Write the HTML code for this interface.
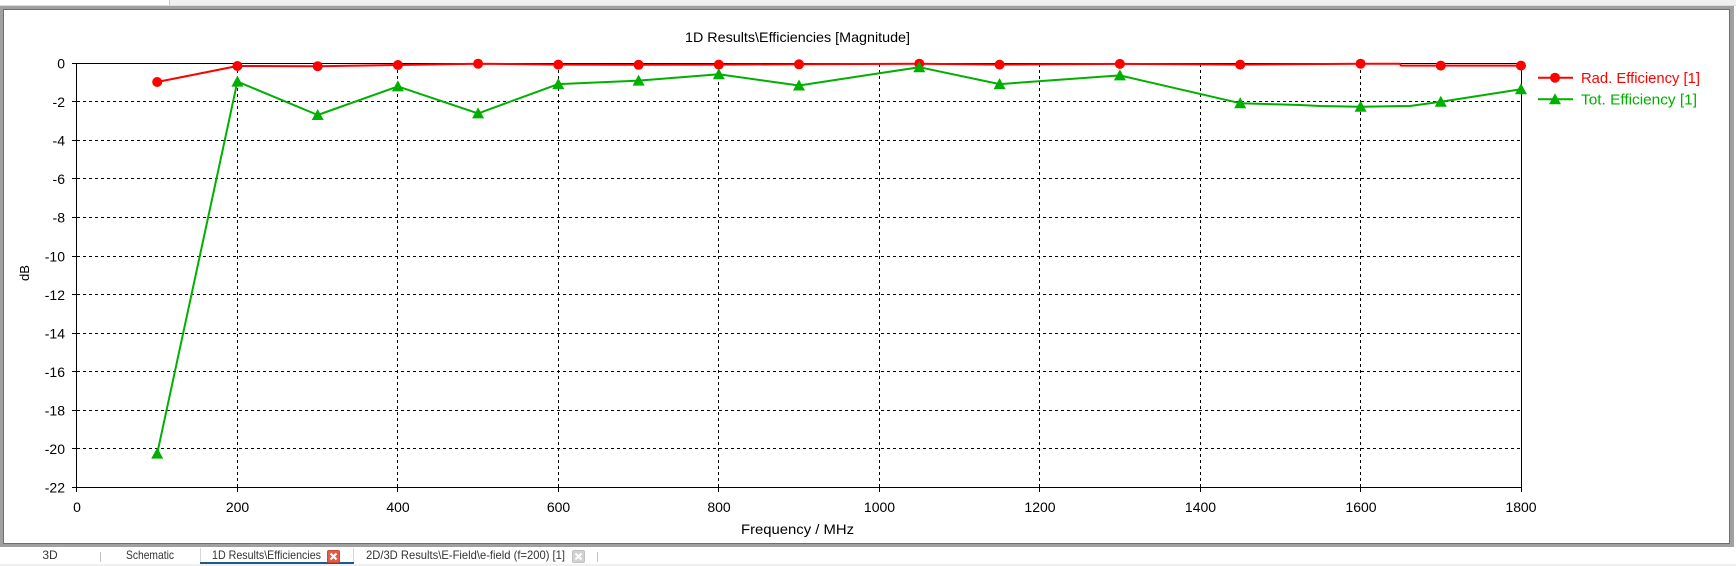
<!DOCTYPE html>
<html><head><meta charset="utf-8"><style>
html,body{margin:0;padding:0;background:#fff;}
svg{display:block;}
text{font-family:"Liberation Sans","DejaVu Sans",sans-serif;}
</style></head><body>
<svg width="1736" height="566" viewBox="0 0 1736 566" xmlns="http://www.w3.org/2000/svg">
<!-- top strip -->
<rect x="0" y="0" width="1736" height="5" fill="#f0f0f0"/>
<rect x="0" y="0" width="169" height="5" fill="#ffffff"/>
<rect x="169" y="0" width="1" height="5" fill="#c8c8c8"/>
<rect x="0" y="5" width="1736" height="1" fill="#dcdcdc"/>
<!-- frame -->
<rect x="0" y="6" width="1734" height="541" fill="#a0a0a0"/>
<rect x="3" y="9" width="1727" height="535" fill="#6e6e6e"/>
<rect x="4" y="10" width="1725" height="533" fill="#ffffff"/>
<!-- tab bar -->
<rect x="0" y="547" width="1736" height="19" fill="#ffffff"/>
<rect x="0" y="564" width="1736" height="2" fill="#f0f0f0"/>
<rect x="100" y="552" width="1" height="10" fill="#c0c0c0"/>
<rect x="597" y="552" width="1" height="10" fill="#c0c0c0"/>
<rect x="200" y="548" width="1" height="15" fill="#d8d8d8"/>
<rect x="353" y="548" width="1" height="15" fill="#d8d8d8"/>
<rect x="200" y="562" width="154" height="2" fill="#1f5a8e"/>
<g font-size="12" fill="#333">
<text x="50" y="559" text-anchor="middle">3D</text>
<text x="150" y="559" text-anchor="middle" textLength="48" lengthAdjust="spacingAndGlyphs">Schematic</text>
<text x="212" y="559" textLength="109" lengthAdjust="spacingAndGlyphs">1D Results\Efficiencies</text>
<text x="366" y="559" textLength="199" lengthAdjust="spacingAndGlyphs">2D/3D Results\E-Field\e-field (f=200) [1]</text>
</g>
<rect x="327.5" y="550.5" width="12" height="12" rx="1.5" fill="#e35c45" stroke="#c94a35"/>
<path d="M330.5 553.5 L336.5 559.5 M336.5 553.5 L330.5 559.5" stroke="#fff" stroke-width="2"/>
<rect x="572.5" y="550.5" width="12" height="12" rx="1.5" fill="#d2d2d2" stroke="#c0c0c0"/>
<path d="M575.5 553.5 L581.5 559.5 M581.5 553.5 L575.5 559.5" stroke="#fff" stroke-width="2"/>

<!-- title -->
<text x="797.5" y="42" font-size="14" text-anchor="middle" fill="#000" textLength="225" lengthAdjust="spacingAndGlyphs">1D Results\Efficiencies [Magnitude]</text>

<!-- grid -->
<g stroke="#000" stroke-width="1" stroke-dasharray="3,3" shape-rendering="crispEdges" fill="none">
<path d="M77 101.5H1521M77 140.5H1521M77 178.5H1521M77 217.5H1521M77 256.5H1521M77 294.5H1521M77 333.5H1521M77 371.5H1521M77 410.5H1521M77 448.5H1521"/>
<path d="M237.5 64V487M397.5 64V487M558.5 64V487M718.5 64V487M879.5 64V487M1039.5 64V487M1200.5 64V487M1360.5 64V487"/>
</g>
<!-- axes box -->
<g stroke="#000" stroke-width="1" shape-rendering="crispEdges" fill="none">
<rect x="76.5" y="63.5" width="1445" height="424"/>
<path d="M72 63.5H77M72 101.5H77M72 140.5H77M72 178.5H77M72 217.5H77M72 256.5H77M72 294.5H77M72 333.5H77M72 371.5H77M72 410.5H77M72 448.5H77M72 487.5H77"/>
<path d="M76.5 487V492M237.5 487V492M397.5 487V492M558.5 487V492M718.5 487V492M879.5 487V492M1039.5 487V492M1200.5 487V492M1360.5 487V492M1521.5 487V492"/>
</g>
<!-- y tick labels -->
<g font-size="14" text-anchor="end" fill="#000">
<text x="65" y="68.5">0</text>
<text x="65" y="107">-2</text>
<text x="65" y="145.5">-4</text>
<text x="65" y="184">-6</text>
<text x="65" y="222.5">-8</text>
<text x="65" y="261.5">-10</text>
<text x="65" y="300">-12</text>
<text x="65" y="338.5">-14</text>
<text x="65" y="377">-16</text>
<text x="65" y="415.5">-18</text>
<text x="65" y="454">-20</text>
<text x="65" y="492.5">-22</text>
</g>
<!-- x tick labels -->
<g font-size="14" text-anchor="middle" fill="#000">
<text x="77" y="512">0</text>
<text x="237.5" y="512">200</text>
<text x="398" y="512">400</text>
<text x="558.5" y="512">600</text>
<text x="719" y="512">800</text>
<text x="879.5" y="512">1000</text>
<text x="1040" y="512">1200</text>
<text x="1200.5" y="512">1400</text>
<text x="1361" y="512">1600</text>
<text x="1521" y="512">1800</text>
</g>
<text x="797.5" y="534" font-size="14" text-anchor="middle" fill="#000" textLength="113" lengthAdjust="spacingAndGlyphs">Frequency / MHz</text>
<text transform="translate(29,273) rotate(-90)" font-size="13" text-anchor="middle" fill="#000">dB</text>

<!-- red series -->
<polyline fill="none" stroke="#ff0000" stroke-width="2" stroke-linejoin="round" points="157.2,82 237.4,66 317.7,66.2 397.9,65 478.1,63.7 558.3,64.6 638.6,64.8 718.8,64.6 799,64.3 919.3,63.7 999.6,64.6 1119.9,63.9 1240.2,64.6 1360.6,63.7 1400,63.7 1401,65.6 1440.8,65.6 1521,65.6"/>
<g fill="#ff0000">
<circle cx="157.2" cy="82" r="5"/><circle cx="237.4" cy="66" r="5"/><circle cx="317.7" cy="66.2" r="5"/><circle cx="397.9" cy="65" r="5"/><circle cx="478.1" cy="63.7" r="5"/><circle cx="558.3" cy="64.6" r="5"/><circle cx="638.6" cy="64.8" r="5"/><circle cx="718.8" cy="64.6" r="5"/><circle cx="799" cy="64.3" r="5"/><circle cx="919.3" cy="63.7" r="5"/><circle cx="999.6" cy="64.6" r="5"/><circle cx="1119.9" cy="63.9" r="5"/><circle cx="1240.2" cy="64.6" r="5"/><circle cx="1360.6" cy="63.7" r="5"/><circle cx="1440.8" cy="65.6" r="5"/><circle cx="1521" cy="65.6" r="5"/>
</g>
<!-- green series -->
<polyline fill="none" stroke="#00b000" stroke-width="2" stroke-linejoin="round" points="157.2,453.6 237.4,81.6 317.7,115 397.9,86.4 478.1,113.4 558.3,84.1 638.6,80.6 718.8,74.3 799,85.5 919.3,67.2 999.6,84.1 1119.9,75.4 1240.2,103.2 1300,105 1320,106 1360.6,106.7 1410,106 1440.8,101.7 1521,89.3"/>
<g fill="#00b000">
<path d="M157.2 447.6 l6 11 h-12z"/>
<path d="M237.4 75.6 l6 11 h-12z"/>
<path d="M317.7 109 l6 11 h-12z"/>
<path d="M397.9 80.4 l6 11 h-12z"/>
<path d="M478.1 107.4 l6 11 h-12z"/>
<path d="M558.3 78.1 l6 11 h-12z"/>
<path d="M638.6 74.6 l6 11 h-12z"/>
<path d="M718.8 68.3 l6 11 h-12z"/>
<path d="M799 79.5 l6 11 h-12z"/>
<path d="M919.3 61.2 l6 11 h-12z"/>
<path d="M999.6 78.1 l6 11 h-12z"/>
<path d="M1119.9 69.4 l6 11 h-12z"/>
<path d="M1240.2 97.2 l6 11 h-12z"/>
<path d="M1360.6 100.7 l6 11 h-12z"/>
<path d="M1440.8 95.7 l6 11 h-12z"/>
<path d="M1521 83.3 l6 11 h-12z"/>
</g>
<!-- legend -->
<line x1="1538" y1="77.7" x2="1573" y2="77.7" stroke="#ff0000" stroke-width="2"/>
<circle cx="1555" cy="77.7" r="5" fill="#ff0000"/>
<text x="1581" y="83" font-size="14.5" fill="#ff0000" textLength="119" lengthAdjust="spacingAndGlyphs">Rad. Efficiency [1]</text>
<line x1="1538" y1="99.3" x2="1573" y2="99.3" stroke="#00b000" stroke-width="2"/>
<path d="M1555 93.3 l6 11 h-12z" fill="#00b000"/>
<text x="1581" y="104.6" font-size="14.5" fill="#00b000" textLength="116" lengthAdjust="spacingAndGlyphs">Tot. Efficiency [1]</text>
</svg>
</body></html>
